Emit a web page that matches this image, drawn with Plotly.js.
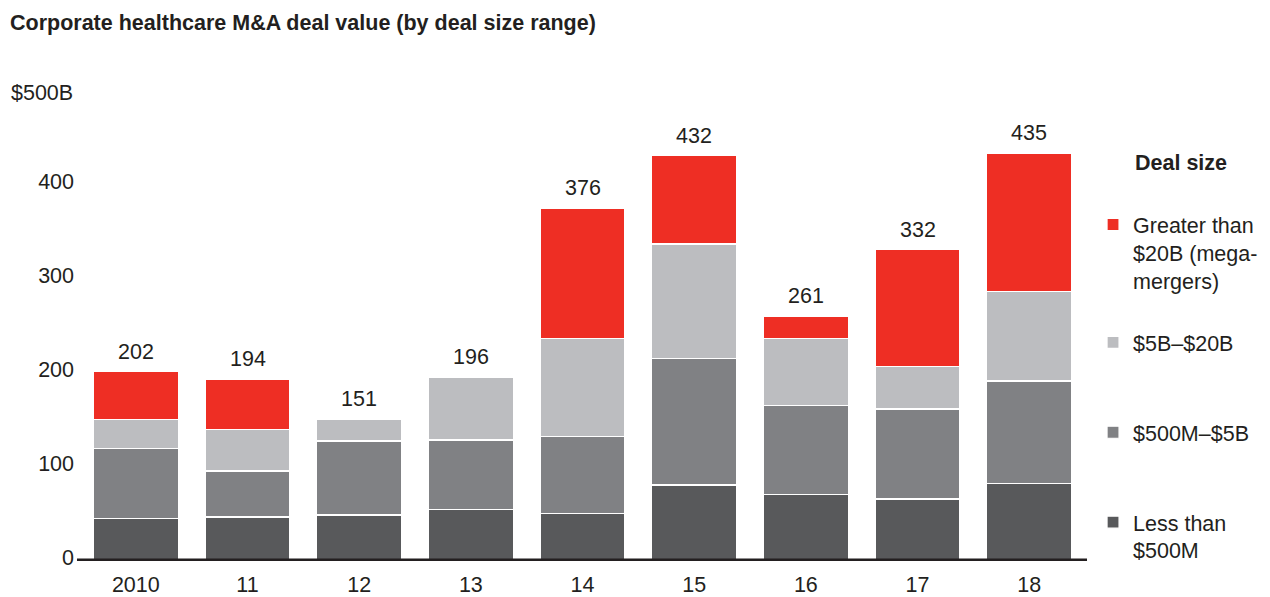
<!DOCTYPE html>
<html>
<head>
<meta charset="utf-8">
<script src="https://cdn.plot.ly/plotly-3.0.1.min.js"></script>
<style>html,body{margin:0;padding:0;background:#fff;}#chart{width:1270px;height:597px;}</style>
</head>
<body>
<div id="chart"></div>
<script>
// ---- data (values in $B) ----
const years = ['2010', '11', '12', '13', '14', '15', '16', '17', '18'];
const lessThan500M = [45, 47, 49, 55, 51, 81, 71, 66, 83];
const from500Mto5B = [75, 49, 79, 74, 82, 135, 95, 96, 109];
const from5Bto20B = [31, 44, 23, 67, 104, 122, 71, 45, 95];
const greaterThan20B = [51, 54, 0, 0, 139, 94, 24, 125, 148];
const totals = [202, 194, 151, 196, 376, 432, 261, 332, 435];
const yTickVals = [0, 100, 200, 300, 400];
const yTopLabel = '$500B';

const FONT = 'Liberation Sans, Arial, Helvetica, sans-serif';
const TXT = '#231F20';
const FS = 21.5;

const series = [
  {name: 'Less than<br>$500M', y: lessThan500M, color: '#58595B', group: 'g4', rank: 4},
  {name: '$500M–$5B<br> ', y: from500Mto5B, color: '#808184', group: 'g3', rank: 3},
  {name: '$5B–$20B<br> ', y: from5Bto20B, color: '#BCBDC0', group: 'g2', rank: 2},
  {name: 'Greater than<br>$20B (mega-<br>mergers)', y: greaterThan20B, color: '#EE2E24', group: 'g1', rank: 1}
];

const traces = series.map(s => ({
  type: 'bar',
  x: years,
  y: s.y,
  name: s.name,
  legendgroup: s.group,
  legendrank: s.rank,
  marker: {color: s.color, line: {color: '#ffffff', width: 1.2}}
}));

// category positions by index (numeric-looking category names are read as numbers by annotations)
const annotations = years.map((yr, i) => ({
  x: i, y: totals[i], xref: 'x', yref: 'y',
  text: String(totals[i]), showarrow: false,
  yanchor: 'bottom', yshift: 6,
  font: {family: FONT, size: FS, color: TXT}
}));
annotations.push({
  x: 0, y: 500, xref: 'paper', yref: 'y', xanchor: 'right', yanchor: 'middle',
  xshift: -5, yshift: -1, text: yTopLabel, showarrow: false,
  font: {family: FONT, size: FS, color: TXT}
});
annotations.push({
  x: (1133 - 80) / 1005, y: (561 - 163) / 469, xref: 'paper', yref: 'paper',
  xanchor: 'left', yanchor: 'middle', text: '<b>Deal size</b>', showarrow: false,
  font: {family: FONT, size: FS, color: TXT}
});

const layout = {
  width: 1270, height: 597,
  margin: {l: 80, r: 185, t: 92, b: 36, autoexpand: false},
  paper_bgcolor: '#ffffff', plot_bgcolor: '#ffffff',
  barmode: 'stack',
  bargap: 0.24,
  font: {family: FONT, size: FS, color: TXT},
  title: {
    text: '<b>Corporate healthcare M&A deal value (by deal size range)</b>',
    font: {family: FONT, size: 21.5, color: TXT},
    xref: 'container', yref: 'container',
    x: 10 / 1270, xanchor: 'left', y: 1 - 22 / 597, yanchor: 'middle'
  },
  xaxis: {
    type: 'category',
    range: [-0.5, years.length - 0.5],
    showgrid: false, zeroline: false, showline: false,
    ticks: '', tickfont: {family: FONT, size: FS, color: TXT},
    ticklabelstandoff: 8
  },
  yaxis: {
    range: [0, 500],
    tickvals: yTickVals,
    showgrid: false, zeroline: false, showline: false,
    ticks: '', tickfont: {family: FONT, size: FS, color: TXT},
    ticklabelshift: -4,
    ticklabelstandoff: 5
  },
  shapes: [{
    type: 'line', xref: 'paper', yref: 'y', layer: 'above',
    x0: -0.003, x1: 1.002, y0: 0, y1: 0,
    line: {color: '#231F20', width: 5}
  }],
  showlegend: true,
  legend: {
    traceorder: 'grouped',
    tracegroupgap: 31,
    valign: 'top',
    x: 1.008, xanchor: 'left',
    y: 1 - 112 / 469, yanchor: 'top',
    font: {family: FONT, size: FS, color: TXT},
    bgcolor: 'rgba(0,0,0,0)'
  },
  annotations: annotations
};

Plotly.newPlot('chart', traces, layout, {displayModeBar: false});
</script>
</body>
</html>
